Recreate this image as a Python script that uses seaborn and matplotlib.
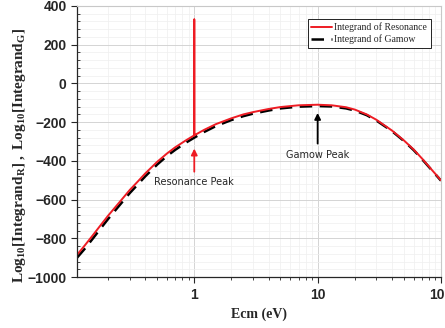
import matplotlib
matplotlib.use("Agg")
import matplotlib.pyplot as plt
import seaborn as sns
import pandas as pd
from matplotlib.ticker import MultipleLocator, LogLocator, NullFormatter, FixedLocator, FixedFormatter

# values
energy = [0.112, 0.13, 0.15, 0.175, 0.2, 0.25, 0.3, 0.35, 0.4, 0.5, 0.6, 0.7, 0.85, 1.0,
          1.2, 1.5, 2, 2.5, 3, 4, 5, 7, 10, 13, 17, 20, 25, 30, 40, 50, 60, 70, 85, 100]
log_resonance = [-885, -835, -785, -730, -683, -610, -550, -505, -465, -405, -362, -330, -295, -268,
                 -240, -210, -180, -160, -148, -132, -122, -113, -110, -113, -123, -135, -160, -188,
                 -243, -294, -341, -387, -449, -500]
log_gamow = [-900, -852, -802, -747, -700, -626, -566, -520, -480, -419, -375, -343, -307, -280,
             -251, -220, -189, -169, -156, -140, -129, -120, -117, -119, -129, -140, -164, -192,
             -246, -297, -344, -390, -451, -502]

# resonance spike at 1 eV
res_energy = 1.0
res_top = 330

sns.set_style("ticks")
plt.rcParams["mathtext.fontset"] = "custom"
plt.rcParams["mathtext.bf"] = "Liberation Serif:bold"
plt.rcParams["mathtext.rm"] = "Liberation Serif"
plt.rcParams["mathtext.it"] = "Liberation Serif:italic"

# insert the spike into the resonance curve
i = energy.index(res_energy)
e_res = energy[:i + 1] + [res_energy, res_energy] + energy[i + 1:]
y_res = log_resonance[:i + 1] + [res_top, log_resonance[i]] + log_resonance[i + 1:]

df_r = pd.DataFrame({"E": e_res, "y": y_res})
df_g = pd.DataFrame({"E": energy, "y": log_gamow})

fig = plt.figure(figsize=(4.45, 3.28), dpi=100)
ax = fig.add_axes([0.173, 0.155, 0.818, 0.827])

sns.lineplot(data=df_g, x="E", y="y", ax=ax, color="black", lw=1.8,
             sort=False, estimator=None, label="Integrand of Gamow")
ax.lines[-1].set_dashes([5, 3])
sns.lineplot(data=df_r, x="E", y="y", ax=ax, color="#ee1c24", lw=1.4,
             sort=False, estimator=None, label="Integrand of Resonance")

ax.set_xscale("log")
ax.set_xlim(0.112, 100)
ax.set_ylim(-1000, 400)

ax.xaxis.set_major_locator(FixedLocator([1, 10, 100]))
ax.xaxis.set_major_formatter(FixedFormatter(["1", "10", "100"]))
ax.xaxis.set_minor_locator(LogLocator(base=10, subs=range(2, 10)))
ax.xaxis.set_minor_formatter(NullFormatter())
ax.yaxis.set_major_locator(MultipleLocator(200))
ax.yaxis.set_minor_locator(MultipleLocator(40))

ax.grid(which="major", color="#d4d4d4", lw=0.7)
ax.grid(which="minor", color="#efefef", lw=0.5)
ax.set_axisbelow(True)

for lab in ax.get_xticklabels() + ax.get_yticklabels():
    lab.set_fontfamily("Liberation Sans")
    lab.set_fontweight("bold")
    lab.set_fontsize(10)
ax.tick_params(which="major", length=4, width=0.8)
ax.tick_params(which="minor", length=2, width=0.6)
ax.tick_params(axis="y", which="minor", direction="in")

for s in ["top", "right"]:
    ax.spines[s].set_color("#c8c8c8")
ax.spines["left"].set_linewidth(0.9)
ax.spines["bottom"].set_linewidth(0.9)

ax.set_xlabel("Ecm (eV)", fontfamily="Liberation Serif", fontweight="bold", fontsize=10, labelpad=4)
ax.set_ylabel(r"$\mathbf{Log_{10}[Integrand_R]\ ,\ Log_{10}[Integrand_G]}$", fontsize=11)
ax.yaxis.set_label_coords(-0.135, 0.45)

# annotations
ax.annotate("", xy=(1.0, -322), xytext=(1.0, -470),
            arrowprops=dict(arrowstyle="-|>", color="#ee1c24", lw=1.3, mutation_scale=9))
ax.text(1.0, -510, "Resonance Peak", ha="center", va="center", fontsize=7, fontfamily="DejaVu Sans")
ax.annotate("", xy=(10, -138), xytext=(10, -325),
            arrowprops=dict(arrowstyle="-|>", color="black", lw=1.3, mutation_scale=9))
ax.text(10, -372, "Gamow Peak", ha="center", va="center", fontsize=7, fontfamily="DejaVu Sans")

handles, labels = ax.get_legend_handles_labels()
leg = ax.legend(handles[::-1], labels[::-1], loc="upper right", bbox_to_anchor=(0.985, 0.97),
                prop={"family": "Liberation Serif", "size": 7}, frameon=True, fancybox=False,
                edgecolor="black", framealpha=1, handlelength=2.2, handletextpad=0.2,
                borderpad=0.35, labelspacing=0.25)
leg.get_frame().set_linewidth(0.6)

fig.savefig("out.png", dpi=100)
